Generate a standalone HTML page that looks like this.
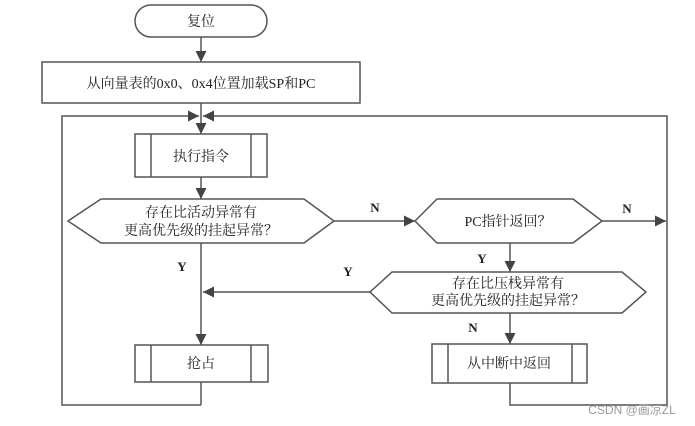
<!DOCTYPE html>
<html><head><meta charset="utf-8"><style>
html,body{margin:0;padding:0;background:#fff;width:695px;height:426px;overflow:hidden}
svg text{font-family:"Liberation Serif","Noto Serif CJK SC",serif;fill:#222}
</style></head><body>
<svg width="695" height="426" viewBox="0 0 695 426" xmlns="http://www.w3.org/2000/svg">
<defs>
<marker id="a" viewBox="0 0 10 10" refX="10" refY="5" markerWidth="11" markerHeight="11" markerUnits="userSpaceOnUse" orient="auto"><path d="M0,0 L10,5 L0,10 z" fill="#444"/></marker>
</defs>
<g stroke="#555" stroke-width="1.5" fill="none">
<rect x="135" y="5" width="132" height="32" rx="16" fill="#fff"/>
<line x1="201" y1="37" x2="201" y2="62" marker-end="url(#a)"/>
<rect x="42" y="62" width="318" height="41" fill="#fff"/>
<line x1="201" y1="103" x2="201" y2="134" marker-end="url(#a)"/>
<polyline points="201,405 62,405 62,116 199,116" marker-end="url(#a)"/>
<polyline points="510,383 510,405 667,405 667,116 203,116" marker-end="url(#a)"/>
<rect x="135" y="134" width="132" height="43" fill="#fff"/>
<line x1="151" y1="134" x2="151" y2="177"/><line x1="251" y1="134" x2="251" y2="177"/>
<line x1="201" y1="177" x2="201" y2="199" marker-end="url(#a)"/>
<polygon points="68,221 101,199 304,199 334,221 304,243 101,243" fill="#fff"/>
<line x1="334" y1="221" x2="415" y2="221" marker-end="url(#a)"/>
<polygon points="415,221 437,199 573,199 602,221 573,243 437,243" fill="#fff"/>
<line x1="602" y1="221" x2="666" y2="221" marker-end="url(#a)"/>
<line x1="510" y1="243" x2="510" y2="272" marker-end="url(#a)"/>
<polygon points="370,292 392,272 622,272 646,292 622,313 392,313" fill="#fff"/>
<line x1="370" y1="292" x2="203" y2="292" marker-end="url(#a)"/>
<line x1="201" y1="243" x2="201" y2="345" marker-end="url(#a)"/>
<line x1="510" y1="313" x2="510" y2="344" marker-end="url(#a)"/>
<rect x="135" y="345" width="133" height="37" fill="#fff"/>
<line x1="151" y1="345" x2="151" y2="382"/><line x1="251" y1="345" x2="251" y2="382"/>
<line x1="201" y1="382" x2="201" y2="405"/>
<rect x="432" y="344" width="155" height="39" fill="#fff"/>
<line x1="448" y1="344" x2="448" y2="383"/><line x1="572" y1="344" x2="572" y2="383"/>
</g>
<g font-size="14" text-anchor="middle">
<text x="201" y="26">复位</text>
<text x="201" y="88">从向量表的0x0、0x4位置加载SP和PC</text>
<text x="201" y="161">执行指令</text>
<text x="201" y="217">存在比活动异常有</text>
<text x="201" y="235">更高优先级的挂起异常？</text>
<text x="508" y="226">PC指针返回？</text>
<text x="508" y="288">存在比压栈异常有</text>
<text x="508" y="305">更高优先级的挂起异常？</text>
<text x="201" y="368">抢占</text>
<text x="509" y="368">从中断中返回</text>
</g>
<g font-size="13" font-weight="bold" text-anchor="middle">
<text x="375" y="212">N</text>
<text x="627" y="213">N</text>
<text x="482" y="263">Y</text>
<text x="348" y="276">Y</text>
<text x="182" y="271">Y</text>
<text x="473" y="332">N</text>
</g>
<text x="632" y="414" font-size="12" text-anchor="middle" style="font-family:'Liberation Sans','Noto Sans CJK SC',sans-serif;fill:#999">CSDN @画凉ZL</text>
</svg>
</body></html>
